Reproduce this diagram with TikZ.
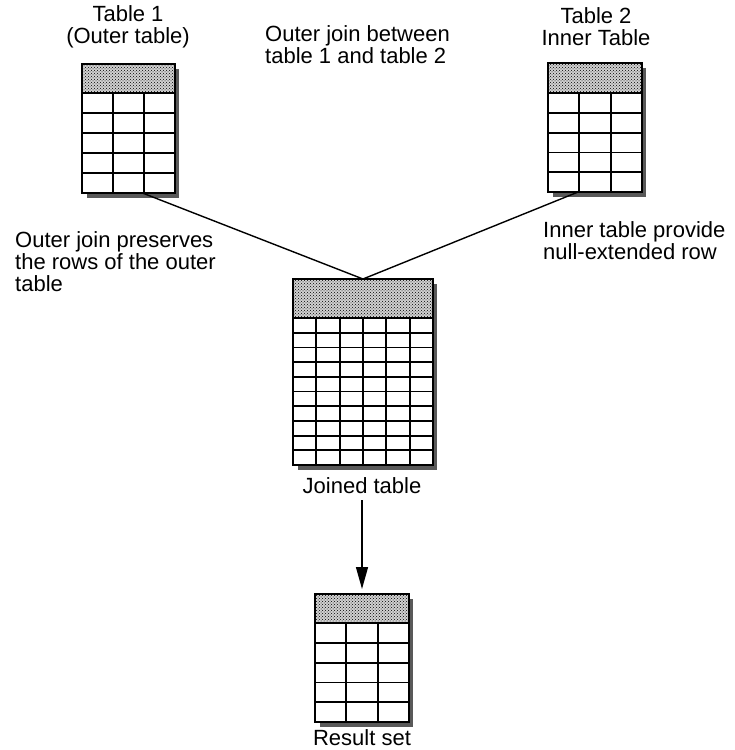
\documentclass[tikz,border=0pt]{standalone}
\usepackage{fontspec}
\setmainfont{Liberation Sans}
\usetikzlibrary{calc,patterns,arrows.meta}

\tikzset{
  tbox/.style={fill=white, inner sep=0pt, outer sep=0pt},
  tshadow/.style={fill=black!65},
  thead/.style={preaction={fill=black!18}, pattern=crosshatch dots},
  tline/.style={line width=1.8pt},
  tedge/.style={line width=2.6pt},
  label/.style={font=\fontsize{22}{22}\selectfont, inner sep=0pt},
  link/.style={line width=1.4pt},
  arr/.style={line width=1.4pt, -{Triangle[length=22pt, width=12pt]}}
}

% name, x, y, width, height, header height, columns, rows
\newcommand\dbtable[8]{%
  \begin{scope}[shift={(#2,#3)}]
    \fill[tshadow] (5,5) rectangle (#4+4,#5+5);
    \node[tbox, minimum width=#4pt, minimum height=#5pt, anchor=north west] (#1) at (0,0) {};
    \fill[thead] (0,0) rectangle (#4,#6);
    \pgfmathtruncatemacro\lastcol{#7-1}
    \pgfmathtruncatemacro\lastrow{#8-1}
    \foreach \c in {1,...,\lastcol}
      \draw[tline] (\c*#4/#7,#6) -- (\c*#4/#7,#5);
    \foreach \r in {0,...,\lastrow}
      \draw[tline] (0,#6+\r*#5/#8-\r*#6/#8) -- (#4,#6+\r*#5/#8-\r*#6/#8);
    \draw[tedge] (0,0) rectangle (#4,#5);
  \end{scope}}

\begin{document}
\begin{tikzpicture}[x=1pt, y=-1pt]
\useasboundingbox (0,0) rectangle (735,750);

% the two source tables
\dbtable{tone}{82}{64}{93}{129}{29}{3}{5}
\dbtable{ttwo}{548}{63}{94}{129}{30}{3}{5}

\node[label, align=center] (lone) at (128,27) {Table 1\\(Outer table)};
\node[label, align=center] (ltwo) at (596,27) {Table 2\\Inner Table};
\node[label, align=left, anchor=west] (ljoin) at (265,45) {Outer join between\\table 1 and table 2};

% joined table
\dbtable{tjoin}{293}{279}{140}{186}{39}{6}{10}
\node[label] (ljoined) at (362,486) {Joined table};

\draw[link] ($(tone.south west)!0.65!(tone.south east)$) -- (tjoin.north);
\draw[link] ($(ttwo.south west)!0.32!(ttwo.south east)$) -- (tjoin.north);

\node[label, align=left, anchor=west] (louter) at (15,262) {Outer join preserves\\the rows of the outer\\table};
\node[label, align=left, anchor=west] (linner) at (543,241) {Inner table provide\\null-extended row};

% result
\dbtable{tres}{315}{594}{94}{128}{29}{3}{5}
\node[label] (lres) at (362,738) {Result set};

\draw[arr, shorten <=6pt, shorten >=5pt] (ljoined.south) -- (tres.north);

\end{tikzpicture}
\end{document}
